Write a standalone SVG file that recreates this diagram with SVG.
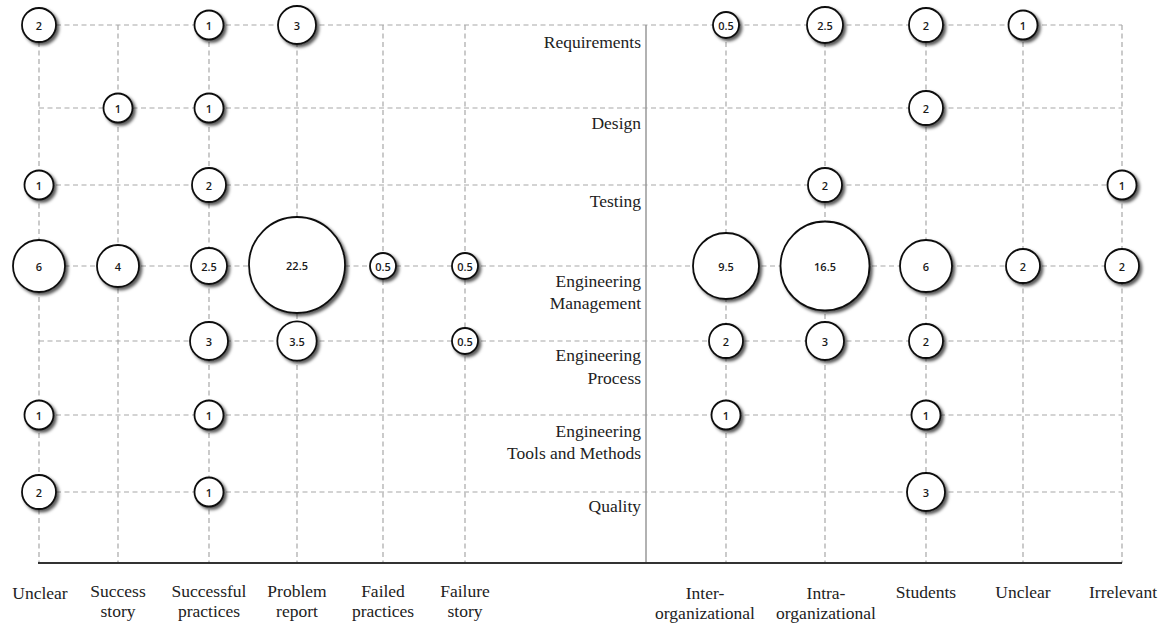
<svg xmlns="http://www.w3.org/2000/svg" width="1166" height="623" viewBox="0 0 1166 623">
<defs>
<filter id="sh" x="-30%" y="-30%" width="170%" height="170%">
<feDropShadow dx="2.4" dy="2.4" stdDeviation="1.6" flood-color="#000" flood-opacity="0.65"/>
</filter>
<style>
.g{stroke:#a8a8a8;stroke-width:1.2;stroke-dasharray:5 3.5;fill:none}
.b circle{fill:#fff;stroke:#111;stroke-width:1.8;filter:url(#sh)}
.b text{font-family:"Open Sans","DejaVu Sans",sans-serif;font-size:11px;font-weight:600;fill:#1a1a1a;text-anchor:middle;dominant-baseline:central}
.lab{font-family:"Liberation Serif","Times New Roman",serif;font-size:17.5px;fill:#222}
.rl{text-anchor:end}
.cl{text-anchor:middle}
</style>
</defs>
<rect width="1166" height="623" fill="#fff"/>
<g id="connectors">
<g id="grid-rows">
<line class="g" x1="39" y1="25" x2="1122" y2="25"/>
<line class="g" x1="39" y1="108" x2="1122" y2="108"/>
<line class="g" x1="39" y1="185" x2="1122" y2="185"/>
<line class="g" x1="39" y1="266" x2="1122" y2="266"/>
<line class="g" x1="39" y1="341" x2="1122" y2="341"/>
<line class="g" x1="39" y1="415" x2="1122" y2="415"/>
<line class="g" x1="39" y1="492" x2="1122" y2="492"/>
</g>
<g id="grid-cols">
<line class="g" x1="39" y1="25" x2="39" y2="563"/>
<line class="g" x1="118" y1="25" x2="118" y2="563"/>
<line class="g" x1="209" y1="25" x2="209" y2="563"/>
<line class="g" x1="297" y1="25" x2="297" y2="563"/>
<line class="g" x1="383" y1="25" x2="383" y2="563"/>
<line class="g" x1="465" y1="25" x2="465" y2="563"/>
<line class="g" x1="726" y1="25" x2="726" y2="563"/>
<line class="g" x1="825" y1="25" x2="825" y2="563"/>
<line class="g" x1="926" y1="25" x2="926" y2="563"/>
<line class="g" x1="1023" y1="25" x2="1023" y2="563"/>
<line class="g" x1="1122" y1="25" x2="1122" y2="563"/>
</g>
<line id="divider" x1="646" y1="25" x2="646" y2="563" stroke="#999" stroke-width="1.5"/>
<line id="axis" x1="38" y1="563" x2="1122" y2="563" stroke="#333" stroke-width="2"/>
</g>
<g id="row-labels" class="lab rl">
<text x="641" y="48">Requirements</text>
<text x="641" y="129">Design</text>
<text x="641" y="207">Testing</text>
<text x="641" y="287">Engineering</text>
<text x="641" y="309">Management</text>
<text x="641" y="361">Engineering</text>
<text x="641" y="384">Process</text>
<text x="641" y="437">Engineering</text>
<text x="641" y="459">Tools and Methods</text>
<text x="641" y="512">Quality</text>
</g>
<g id="col-labels" class="lab cl">
<text x="40" y="599">Unclear</text>
<text x="118" y="597">Success</text>
<text x="118" y="617">story</text>
<text x="209" y="597">Successful</text>
<text x="209" y="617">practices</text>
<text x="297" y="597">Problem</text>
<text x="297" y="617">report</text>
<text x="383" y="597">Failed</text>
<text x="383" y="617">practices</text>
<text x="465" y="597">Failure</text>
<text x="465" y="617">story</text>
<text x="705" y="599">Inter-</text>
<text x="705" y="619">organizational</text>
<text x="826" y="599">Intra-</text>
<text x="826" y="619">organizational</text>
<text x="926" y="598">Students</text>
<text x="1023" y="598">Unclear</text>
<text x="1123" y="598">Irrelevant</text>
</g>
<g id="bubbles">
<g id="n-req-unclear" class="b"><circle cx="39" cy="25" r="17"/><text x="39" y="25">2</text></g>
<g id="n-req-succprac" class="b"><circle cx="209" cy="25" r="14.5"/><text x="209" y="25">1</text></g>
<g id="n-req-problem" class="b"><circle cx="297" cy="25" r="19"/><text x="297" y="25">3</text></g>
<g id="n-req-inter" class="b"><circle cx="726" cy="25" r="13"/><text x="726" y="25">0.5</text></g>
<g id="n-req-intra" class="b"><circle cx="825" cy="25" r="18"/><text x="825" y="25">2.5</text></g>
<g id="n-req-students" class="b"><circle cx="926" cy="25" r="17"/><text x="926" y="25">2</text></g>
<g id="n-req-unclear2" class="b"><circle cx="1023" cy="25" r="14.5"/><text x="1023" y="25">1</text></g>

<g id="n-des-success" class="b"><circle cx="118" cy="108" r="14.5"/><text x="118" y="108">1</text></g>
<g id="n-des-succprac" class="b"><circle cx="209" cy="108" r="14.5"/><text x="209" y="108">1</text></g>
<g id="n-des-students" class="b"><circle cx="926" cy="108" r="17"/><text x="926" y="108">2</text></g>

<g id="n-tes-unclear" class="b"><circle cx="39" cy="185" r="14.5"/><text x="39" y="185">1</text></g>
<g id="n-tes-succprac" class="b"><circle cx="209" cy="185" r="17"/><text x="209" y="185">2</text></g>
<g id="n-tes-intra" class="b"><circle cx="825" cy="185" r="17"/><text x="825" y="185">2</text></g>
<g id="n-tes-irrelevant" class="b"><circle cx="1122" cy="185" r="14.5"/><text x="1122" y="185">1</text></g>

<g id="n-em-unclear" class="b"><circle cx="39" cy="266" r="26"/><text x="39" y="266">6</text></g>
<g id="n-em-success" class="b"><circle cx="118" cy="266" r="21"/><text x="118" y="266">4</text></g>
<g id="n-em-succprac" class="b"><circle cx="209" cy="266" r="18"/><text x="209" y="266">2.5</text></g>
<g id="n-em-problem" class="b"><circle cx="297" cy="265" r="48"/><text x="297" y="265">22.5</text></g>
<g id="n-em-failedprac" class="b"><circle cx="383" cy="266" r="13"/><text x="383" y="266">0.5</text></g>
<g id="n-em-failure" class="b"><circle cx="465" cy="266" r="13"/><text x="465" y="266">0.5</text></g>
<g id="n-em-inter" class="b"><circle cx="726" cy="266" r="33"/><text x="726" y="266">9.5</text></g>
<g id="n-em-intra" class="b"><circle cx="825" cy="266" r="44.5"/><text x="825" y="266">16.5</text></g>
<g id="n-em-students" class="b"><circle cx="926" cy="266" r="26"/><text x="926" y="266">6</text></g>
<g id="n-em-unclear2" class="b"><circle cx="1023" cy="266" r="17"/><text x="1023" y="266">2</text></g>
<g id="n-em-irrelevant" class="b"><circle cx="1122" cy="266" r="17"/><text x="1122" y="266">2</text></g>

<g id="n-ep-succprac" class="b"><circle cx="209" cy="341" r="19"/><text x="209" y="341">3</text></g>
<g id="n-ep-problem" class="b"><circle cx="297" cy="341" r="19.7"/><text x="297" y="341">3.5</text></g>
<g id="n-ep-failure" class="b"><circle cx="465" cy="341" r="13"/><text x="465" y="341">0.5</text></g>
<g id="n-ep-inter" class="b"><circle cx="726" cy="341" r="17"/><text x="726" y="341">2</text></g>
<g id="n-ep-intra" class="b"><circle cx="825" cy="341" r="19"/><text x="825" y="341">3</text></g>
<g id="n-ep-students" class="b"><circle cx="926" cy="341" r="17"/><text x="926" y="341">2</text></g>

<g id="n-etm-unclear" class="b"><circle cx="39" cy="415" r="14.5"/><text x="39" y="415">1</text></g>
<g id="n-etm-succprac" class="b"><circle cx="209" cy="415" r="14.5"/><text x="209" y="415">1</text></g>
<g id="n-etm-inter" class="b"><circle cx="726" cy="415" r="14.5"/><text x="726" y="415">1</text></g>
<g id="n-etm-students" class="b"><circle cx="926" cy="415" r="14.5"/><text x="926" y="415">1</text></g>

<g id="n-q-unclear" class="b"><circle cx="39" cy="492" r="17"/><text x="39" y="492">2</text></g>
<g id="n-q-succprac" class="b"><circle cx="209" cy="492" r="14.5"/><text x="209" y="492">1</text></g>
<g id="n-q-students" class="b"><circle cx="926" cy="492" r="19"/><text x="926" y="492">3</text></g>
</g>
</svg>
